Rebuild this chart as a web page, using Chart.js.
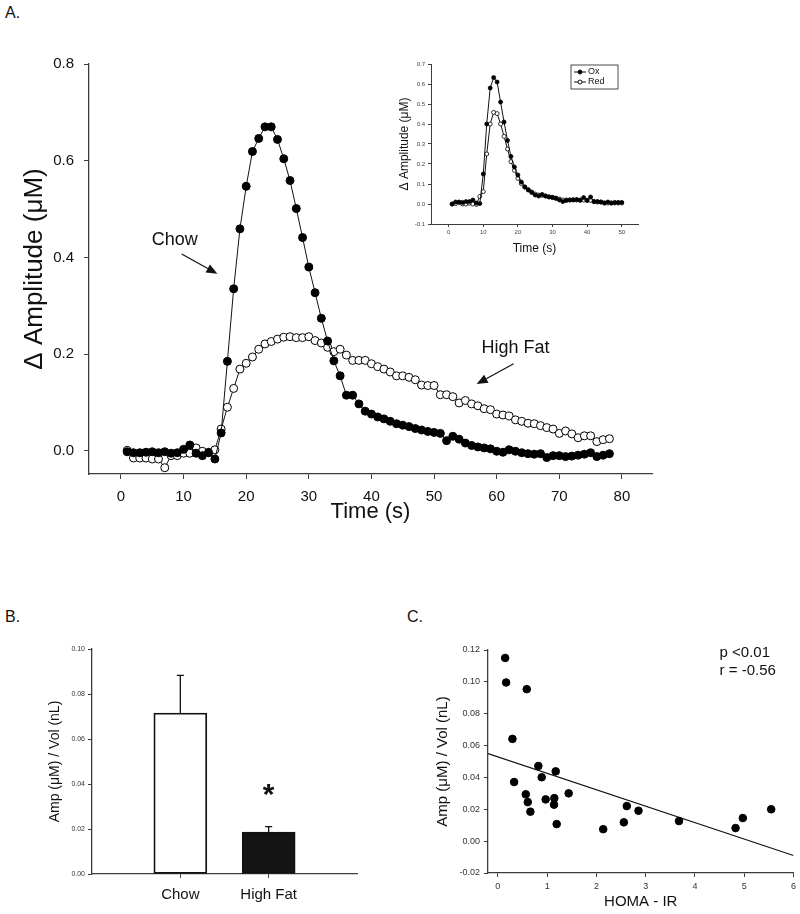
<!DOCTYPE html>
<html>
<head>
<meta charset="utf-8">
<script src="https://cdn.jsdelivr.net/npm/chart.js@4.4.1/dist/chart.umd.min.js"></script>
<style>
  body { margin: 0; background: #fff; }
  #fig { position: relative; width: 800px; height: 914px; overflow: hidden; background: #fff; font-family: 'Liberation Sans', Arial, sans-serif; }
  #fig canvas { position: absolute; }
  .tag { position: absolute; font-size: 16px; line-height: 16px; color: #111; }
</style>
</head>
<body>
<div id="fig">
  <div class="tag" style="left:5px;top:5px">A.</div>
  <div class="tag" style="left:5px;top:609px">B.</div>
  <div class="tag" style="left:407px;top:609px">C.</div>
  <canvas id="main" width="680" height="540" style="left:0;top:0"></canvas>
  <canvas id="inset" width="280" height="225" style="left:370px;top:40px"></canvas>
  <canvas id="bars" width="400" height="314" style="left:0;top:600px"></canvas>
  <canvas id="corr" width="400" height="314" style="left:400px;top:600px"></canvas>
</div>
<script>
// ---- panel A: time course ----
const mainTimes = [1,2,3,4,5,6,7,8,9,10,11,12,13,14,15,16,17,18,19,20,21,22,23,24,25,26,27,28,29,30,31,32,33,34,35,36,37,38,39,40,41,42,43,44,45,46,47,48,49,50,51,52,53,54,55,56,57,58,59,60,61,62,63,64,65,66,67,68,69,70,71,72,73,74,75,76,77,78];
const chowAmp = [-0.002,-0.004,-0.004,-0.003,-0.002,-0.004,-0.002,-0.005,-0.004,0.003,0.012,-0.005,-0.010,-0.004,-0.017,0.037,0.185,0.335,0.459,0.547,0.619,0.646,0.670,0.670,0.644,0.604,0.559,0.501,0.441,0.380,0.327,0.274,0.227,0.186,0.155,0.115,0.115,0.097,0.082,0.076,0.070,0.066,0.061,0.056,0.053,0.050,0.046,0.043,0.040,0.038,0.036,0.021,0.030,0.024,0.016,0.011,0.008,0.006,0.004,-0.001,-0.003,0.002,-0.001,-0.004,-0.006,-0.007,-0.006,-0.014,-0.010,-0.010,-0.012,-0.011,-0.009,-0.007,-0.004,-0.012,-0.009,-0.006];
const highFatAmp = [0.001,-0.015,-0.015,-0.015,-0.017,-0.017,-0.035,-0.010,-0.010,-0.005,-0.005,0.006,-0.001,-0.003,0.002,0.045,0.090,0.129,0.169,0.181,0.194,0.210,0.221,0.226,0.231,0.235,0.236,0.234,0.234,0.236,0.228,0.223,0.214,0.205,0.210,0.198,0.187,0.187,0.187,0.180,0.174,0.169,0.163,0.155,0.155,0.152,0.147,0.136,0.135,0.135,0.116,0.116,0.112,0.099,0.104,0.097,0.093,0.087,0.085,0.076,0.074,0.072,0.064,0.061,0.057,0.056,0.052,0.048,0.045,0.036,0.041,0.035,0.027,0.031,0.031,0.019,0.023,0.025];
const mainXTicks = [0,10,20,30,40,50,60,70,80];
const mainYTicks = [0,0.2,0.4,0.6,0.8];
const mainNotes = [{text:'Chow', x:8.6, y:0.436}, {text:'High Fat', x:63, y:0.213}];
const mainArrows = [{x0:9.7, y0:0.407, x1:15.4, y1:0.366}, {x0:62.7, y0:0.180, x1:56.8, y1:0.138}];

// ---- inset: Ox / Red ----
const insetTimes = [1,2,3,4,5,6,7,8,9,10,11,12,13,14,15,16,17,18,19,20,21,22,23,24,25,26,27,28,29,30,31,32,33,34,35,36,37,38,39,40,41,42,43,44,45,46,47,48,49,50];
const oxAmp = [0.000,0.010,0.010,0.008,0.012,0.012,0.020,0.005,0.002,0.150,0.400,0.580,0.632,0.610,0.510,0.410,0.318,0.238,0.185,0.145,0.110,0.085,0.070,0.058,0.045,0.040,0.048,0.040,0.035,0.032,0.028,0.020,0.012,0.018,0.020,0.020,0.022,0.020,0.032,0.018,0.035,0.012,0.012,0.010,0.005,0.010,0.005,0.008,0.008,0.008];
const redAmp = [0.000,0.002,0.008,0.000,0.000,0.004,0.000,-0.002,0.038,0.062,0.250,0.400,0.458,0.452,0.400,0.338,0.275,0.212,0.168,0.128,0.102,0.085,0.072,0.060,0.050,0.045,0.043,0.040,0.036,0.034,0.030,0.025,0.020,0.020,0.020,0.022,0.020,0.018,0.020,0.018,0.018,0.012,0.010,0.010,0.005,0.005,0.005,0.005,0.005,0.005];
const insetXTicks = [0,10,20,30,40,50];
const insetYTicks = [-0.1,0,0.1,0.2,0.3,0.4,0.5,0.6,0.7];

// ---- panel B: bars ----
const groups = ['Chow', 'High Fat'];
const groupMean = [0.0715, 0.0186];
const groupSem = [0.0168, 0.0025];
const barYTicks = [0,0.02,0.04,0.06,0.08,0.10];
const sigMarks = [{x:2, y:0.031, text:'*'}];

// ---- panel C: correlation ----
const homaIR = [0.148,0.168,0.587,0.296,0.330,0.822,0.890,1.174,0.567,0.607,0.660,0.970,1.146,1.140,1.194,1.437,2.138,2.557,2.617,2.854,3.676,4.824,4.972,5.547];
const ampPerVol = [0.1150,0.0996,0.0954,0.0642,0.0371,0.0472,0.0401,0.0438,0.0294,0.0245,0.0185,0.0262,0.0270,0.0229,0.0107,0.0300,0.0075,0.0118,0.0220,0.0191,0.0126,0.0082,0.0145,0.0200];
const fitX = [-0.2, 6];
const fitY = [0.055, -0.009];
const corrXTicks = [0,1,2,3,4,5,6];
const corrYTicks = [-0.02,0,0.02,0.04,0.06,0.08,0.10,0.12];
const corrStats = ['p <0.01', 'r = -0.56'];

const FONT = "'Liberation Sans', Arial, sans-serif";
const INK = '#111';
const AXIS = '#3c3c3c';
Chart.defaults.font.family = FONT;
Chart.defaults.color = INK;
Chart.defaults.animation = false;

const pts = (xs, ys) => xs.map((x, i) => ({x, y: ys[i]}));

// one axis; size fixes the room the axis takes so the plot box lands where the figure has it
const axis = o => ({
  type: 'linear',
  min: o.min,
  max: o.max,
  offset: false,
  afterBuildTicks: s => { s.ticks = o.ticks.map(v => ({value: v})); },
  afterFit: s => { if (o.width != null) s.width = o.width; if (o.height != null) s.height = o.height; },
  ticks: {autoSkip: false, maxRotation: 0, font: {size: o.tickSize}, color: o.tickColor || INK, padding: o.pad, callback: o.fmt},
  grid: {drawOnChartArea: false, offset: false, tickLength: o.tickLen, color: AXIS, tickWidth: 1},
  border: {color: AXIS, width: o.lw || 1.3},
  title: o.title ? {display: true, text: o.title, font: {size: o.titleSize}, color: INK, padding: o.titlePad} : {display: false}
});

const arrow = (ctx, x0, y0, x1, y1) => {
  const a = Math.atan2(y1 - y0, x1 - x0), len = 11, half = 4.5;
  const bx = x1 - len * Math.cos(a), by = y1 - len * Math.sin(a);
  ctx.beginPath();
  ctx.moveTo(x0, y0);
  ctx.lineTo(bx, by);
  ctx.stroke();
  ctx.beginPath();
  ctx.moveTo(x1, y1);
  ctx.lineTo(bx + half * Math.sin(a), by - half * Math.cos(a));
  ctx.lineTo(bx - half * Math.sin(a), by + half * Math.cos(a));
  ctx.closePath();
  ctx.fill();
};

const notesPlugin = {
  id: 'notes',
  afterDatasetsDraw(chart) {
    const {ctx, scales: {x, y}} = chart;
    ctx.save();
    ctx.fillStyle = INK;
    ctx.strokeStyle = INK;
    ctx.lineWidth = 1.2;
    ctx.font = `18px ${FONT}`;
    ctx.textAlign = 'center';
    ctx.textBaseline = 'middle';
    mainNotes.forEach(n => ctx.fillText(n.text, x.getPixelForValue(n.x), y.getPixelForValue(n.y)));
    mainArrows.forEach(a => arrow(ctx, x.getPixelForValue(a.x0), y.getPixelForValue(a.y0), x.getPixelForValue(a.x1), y.getPixelForValue(a.y1)));
    ctx.restore();
  }
};

new Chart(document.getElementById('main'), {
  type: 'line',
  data: {datasets: [
    {label: 'Chow', data: pts(mainTimes, chowAmp), borderColor: INK, borderWidth: 1, pointRadius: 4, pointBackgroundColor: '#000', pointBorderColor: '#000', pointBorderWidth: 1, tension: 0},
    {label: 'High Fat', data: pts(mainTimes, highFatAmp), borderColor: INK, borderWidth: 1, pointRadius: 4, pointBackgroundColor: '#fff', pointBorderColor: '#000', pointBorderWidth: 1, tension: 0}
  ]},
  plugins: [notesPlugin],
  options: {
    responsive: false,
    layout: {padding: {top: 64, right: 28, left: 0, bottom: 0}},
    plugins: {legend: {display: false}, tooltip: {enabled: false}},
    scales: {
      x: axis({min: -5.1, max: 84.8, ticks: mainXTicks, height: 66, tickSize: 15, pad: 9, tickLen: 5, fmt: v => String(v), title: 'Time (s)', titleSize: 22, titlePad: {bottom: 15}}),
      y: axis({min: -0.048, max: 0.8, ticks: mainYTicks, width: 89, tickSize: 15, pad: 10, tickLen: 5, fmt: v => v.toFixed(1), title: 'Δ Amplitude (μM)', titleSize: 26, titlePad: {top: 19}})
    }
  }
});

const insetLegend = {
  id: 'insetLegend',
  afterDatasetsDraw(chart) {
    const {ctx, chartArea: ca} = chart;
    const bx = ca.right - 67, by = ca.top + 1, bw = 47, bh = 24;
    ctx.save();
    ctx.strokeStyle = '#222';
    ctx.lineWidth = 0.8;
    ctx.strokeRect(bx, by, bw, bh);
    ctx.font = `9px ${FONT}`;
    ctx.textBaseline = 'middle';
    chart.data.datasets.forEach((ds, i) => {
      const ly = by + 7 + i * 10;
      ctx.strokeStyle = '#111';
      ctx.lineWidth = 1;
      ctx.beginPath();
      ctx.moveTo(bx + 3, ly);
      ctx.lineTo(bx + 15, ly);
      ctx.stroke();
      ctx.beginPath();
      ctx.arc(bx + 9, ly, 2, 0, Math.PI * 2);
      ctx.fillStyle = ds.pointBackgroundColor;
      ctx.fill();
      ctx.stroke();
      ctx.fillStyle = '#111';
      ctx.fillText(ds.label, bx + 17, ly);
    });
    ctx.restore();
  }
};

new Chart(document.getElementById('inset'), {
  type: 'line',
  data: {datasets: [
    {label: 'Ox', data: pts(insetTimes, oxAmp), borderColor: INK, borderWidth: 1, pointRadius: 2, pointBackgroundColor: '#000', pointBorderColor: '#000', pointBorderWidth: 0.8, tension: 0},
    {label: 'Red', data: pts(insetTimes, redAmp), borderColor: INK, borderWidth: 1, pointRadius: 2, pointBackgroundColor: '#fff', pointBorderColor: '#000', pointBorderWidth: 0.8, tension: 0}
  ]},
  plugins: [insetLegend],
  options: {
    responsive: false,
    layout: {padding: {top: 24, right: 12, left: 0, bottom: 0}},
    plugins: {legend: {display: false}, tooltip: {enabled: false}},
    scales: {
      x: axis({min: -5.1, max: 54.7, ticks: insetXTicks, height: 41, tickSize: 6, tickColor: '#444', pad: 2, tickLen: 3, lw: 1, fmt: v => String(v), title: 'Time (s)', titleSize: 12, titlePad: {bottom: 9}}),
      y: axis({min: -0.1, max: 0.7, ticks: insetYTicks, width: 61, tickSize: 6, tickColor: '#444', pad: 3, tickLen: 3, lw: 1, fmt: v => v.toFixed(1), title: 'Δ Amplitude (μM)', titleSize: 12, titlePad: {top: 27}})
    }
  }
});

// ---- panel B ----
const errorBars = {
  id: 'errorBars',
  afterDatasetsDraw(chart) {
    const {ctx, scales: {y}} = chart;
    const meta = chart.getDatasetMeta(0);
    ctx.save();
    ctx.strokeStyle = INK;
    ctx.lineWidth = 1.3;
    meta.data.forEach((bar, i) => {
      const top = y.getPixelForValue(groupMean[i] + groupSem[i]);
      ctx.beginPath();
      ctx.moveTo(bar.x, bar.y);
      ctx.lineTo(bar.x, top);
      ctx.moveTo(bar.x - 3.5, top);
      ctx.lineTo(bar.x + 3.5, top);
      ctx.stroke();
    });
    ctx.font = `bold 30px ${FONT}`;
    ctx.fillStyle = INK;
    ctx.textAlign = 'center';
    ctx.textBaseline = 'alphabetic';
    sigMarks.forEach(s => ctx.fillText(s.text, chart.scales.x.getPixelForValue(s.x), y.getPixelForValue(s.y)));
    ctx.restore();
  }
};

new Chart(document.getElementById('bars'), {
  type: 'bar',
  data: {datasets: [{
    data: groups.map((g, i) => ({x: i + 1, y: groupMean[i]})),
    backgroundColor: ['#fff', '#141414'],
    borderColor: INK,
    borderWidth: 1.8,
    borderSkipped: false,
    barThickness: 53
  }]},
  plugins: [errorBars],
  options: {
    responsive: false,
    layout: {padding: {top: 49, right: 43, left: 0, bottom: 0}},
    plugins: {legend: {display: false}, tooltip: {enabled: false}},
    scales: {
      x: axis({min: 0, max: 3, ticks: [1, 2], height: 40, tickSize: 15, pad: 8, tickLen: 4, fmt: v => groups[v - 1]}),
      y: axis({min: 0, max: 0.10, ticks: barYTicks, width: 92, tickSize: 7, tickColor: '#333', pad: 3, tickLen: 4, fmt: v => v.toFixed(2), title: 'Amp (μM) / Vol (nL)', titleSize: 14, titlePad: {top: 47}})
    }
  }
});

// ---- panel C ----
const statsText = {
  id: 'statsText',
  afterDatasetsDraw(chart) {
    const {ctx, scales: {x, y}} = chart;
    ctx.save();
    ctx.font = `15px ${FONT}`;
    ctx.fillStyle = INK;
    ctx.textAlign = 'left';
    ctx.textBaseline = 'middle';
    corrStats.forEach((t, i) => ctx.fillText(t, x.getPixelForValue(4.5), y.getPixelForValue(0.118) + i * 18));
    ctx.restore();
  }
};

new Chart(document.getElementById('corr'), {
  type: 'scatter',
  data: {datasets: [
    {data: pts(homaIR, ampPerVol), pointRadius: 3.8, pointBackgroundColor: '#000', pointBorderColor: '#000', showLine: false},
    {data: pts(fitX, fitY), showLine: true, borderColor: INK, borderWidth: 1.2, pointRadius: 0}
  ]},
  plugins: [statsText],
  options: {
    responsive: false,
    layout: {padding: {top: 50, right: 5, left: 0, bottom: 0}},
    plugins: {legend: {display: false}, tooltip: {enabled: false}},
    scales: {
      x: axis({min: -0.2, max: 6, ticks: corrXTicks, height: 41, tickSize: 9, tickColor: '#333', pad: 4, tickLen: 4, fmt: v => String(v), title: 'HOMA - IR', titleSize: 15, titlePad: {bottom: 3}}),
      y: axis({min: -0.02, max: 0.12, ticks: corrYTicks, width: 88, tickSize: 9, tickColor: '#333', pad: 4, tickLen: 4, fmt: v => v.toFixed(2), title: 'Amp (μM) / Vol (nL)', titleSize: 15, titlePad: {top: 34}})
    }
  }
});
</script>
</body>
</html>
